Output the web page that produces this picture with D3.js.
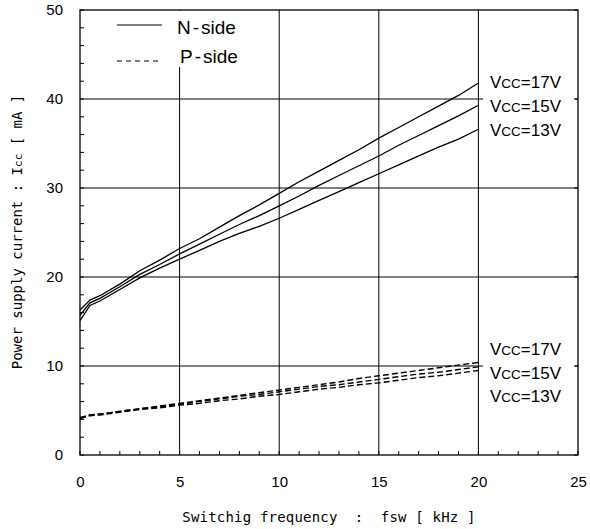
<!DOCTYPE html>
<html><head><meta charset="utf-8">
<script src="https://cdn.jsdelivr.net/npm/d3@7"></script>
<style>body{margin:0;background:#fff}svg{display:block}</style>
</head><body><div id="chart"></div>
<script>
const freq = [0, 0.5, 1, 2, 3, 4, 5, 6, 7, 8, 9, 10, 11, 12, 13, 14, 15, 16, 17, 18, 19, 20];
const nVcc17 = [16.3, 17.4, 17.9, 19.2, 20.7, 21.9, 23.2, 24.3, 25.6, 26.9, 28.1, 29.4, 30.7, 31.9, 33.1, 34.3, 35.6, 36.8, 38.0, 39.2, 40.4, 41.8];
const nVcc15 = [15.7, 17.1, 17.6, 18.9, 20.3, 21.4, 22.6, 23.7, 24.8, 25.9, 26.9, 28.0, 29.1, 30.3, 31.4, 32.5, 33.6, 34.8, 35.9, 37.0, 38.1, 39.3];
const nVcc13 = [15.1, 16.8, 17.3, 18.6, 19.9, 21.0, 22.0, 23.0, 24.0, 24.9, 25.7, 26.6, 27.6, 28.6, 29.6, 30.6, 31.6, 32.6, 33.6, 34.6, 35.5, 36.6];
const pVcc17 = [4.2, 4.5, 4.6, 4.9, 5.2, 5.5, 5.8, 6.1, 6.4, 6.7, 7.0, 7.3, 7.6, 7.9, 8.2, 8.6, 8.9, 9.2, 9.5, 9.8, 10.1, 10.4];
const pVcc15 = [4.2, 4.5, 4.6, 4.9, 5.2, 5.4, 5.7, 6.0, 6.3, 6.6, 6.8, 7.1, 7.4, 7.7, 7.9, 8.2, 8.5, 8.8, 9.1, 9.3, 9.6, 9.9];
const pVcc13 = [4.1, 4.4, 4.5, 4.8, 5.1, 5.3, 5.6, 5.8, 6.1, 6.3, 6.6, 6.8, 7.1, 7.4, 7.6, 7.9, 8.1, 8.4, 8.7, 8.9, 9.2, 9.5];
const vccLabels = ["17V", "15V", "13V"];
const xTicks = [0, 5, 10, 15, 20, 25];
const yTicks = [0, 10, 20, 30, 40, 50];
const legendNames = ["N", "P"];
const xTitle = "Switchig frequency  :  fsw [ kHz ]";

const W = 590, H = 529;
const SANS = "Liberation Sans, Arial, sans-serif";
const MONO = "DejaVu Sans Mono, monospace";
const svg = d3.select("#chart").append("svg").attr("width", W).attr("height", H);
const x = d3.scaleLinear().domain([0, 25]).range([80, 578]);
const y = d3.scaleLinear().domain([0, 50]).range([455, 10]);

// gridlines
const grid = svg.append("g").attr("stroke", "#000").attr("stroke-width", 1);
xTicks.slice(1, -1).forEach(v => grid.append("line").attr("x1", x(v)).attr("x2", x(v)).attr("y1", y(0)).attr("y2", y(50)));
yTicks.slice(1, -1).forEach(v => grid.append("line").attr("y1", y(v)).attr("y2", y(v)).attr("x1", x(0)).attr("x2", x(25)));

// minor ticks
const minor = svg.append("g").attr("stroke", "#000").attr("stroke-width", 1);
d3.range(0, 26, 1).forEach(v => minor.append("line").attr("x1", x(v)).attr("x2", x(v)).attr("y1", y(0)).attr("y2", y(0) - 4));
d3.range(0, 51, 2).forEach(v => minor.append("line").attr("y1", y(v)).attr("y2", y(v)).attr("x1", x(0)).attr("x2", x(0) + 4));

// series
const line = d3.line().x((d, i) => x(freq[i])).y(d => y(d));
[nVcc17, nVcc15, nVcc13].forEach(s => svg.append("path").attr("d", line(s)).attr("fill", "none").attr("stroke", "#000").attr("stroke-width", 1.3));
[pVcc17, pVcc15, pVcc13].forEach(s => svg.append("path").attr("d", line(s)).attr("fill", "none").attr("stroke", "#000").attr("stroke-width", 1.4).attr("stroke-dasharray", "6,3"));

// legend box
svg.append("rect").attr("x", 96).attr("y", 11).attr("width", 160).attr("height", 56).attr("fill", "#fff");
const leg = svg.append("g");
[[25, null, 34, 177], [61, "5,4", 63, 180]].forEach((d, i) => {
  leg.append("line").attr("x1", 117).attr("x2", 162).attr("y1", d[0]).attr("y2", d[0]).attr("stroke", "#000").attr("stroke-width", 1.2).attr("stroke-dasharray", d[1]);
  const t = leg.append("text").attr("x", d[3]).attr("y", d[2]).attr("font-family", SANS).attr("font-size", 19);
  t.append("tspan").text(legendNames[i]);
  t.append("tspan").attr("dx", 2).text("-");
  t.append("tspan").attr("dx", 2).text("side");
});

// right labels with white backgrounds
function vccLabel(yy, txt) {
  const t = svg.append("text").attr("x", 490).attr("y", yy).attr("font-family", SANS).attr("font-size", 17);
  t.append("tspan").text("V");
  t.append("tspan").attr("font-size", 13.5).text("CC");
  t.append("tspan").text("=" + txt);
}
svg.append("rect").attr("x", 483).attr("y", 70).attr("width", 92).attr("height", 70).attr("fill", "#fff");
svg.append("rect").attr("x", 483).attr("y", 338).attr("width", 92).attr("height", 68).attr("fill", "#fff");
vccLabels.forEach((l, i) => vccLabel(88 + i * 24, l));
vccLabels.forEach((l, i) => vccLabel(355 + i * 23.5, l));

// right major ticks
yTicks.forEach(v => svg.append("line").attr("x1", x(25)).attr("x2", x(25) - 4).attr("y1", y(v)).attr("y2", y(v)).attr("stroke", "#000"));

// frame
svg.append("rect").attr("x", x(0)).attr("y", y(50)).attr("width", x(25) - x(0)).attr("height", y(0) - y(50)).attr("fill", "none").attr("stroke", "#000").attr("stroke-width", 1.3);

// axes labels
const xa = svg.append("g").attr("transform", `translate(0,${y(0)})`)
  .call(d3.axisBottom(x).tickValues(xTicks).tickSize(0).tickPadding(21).tickFormat(d3.format("d")));
xa.select(".domain").remove();
xa.selectAll("text").attr("font-family", SANS).attr("font-size", 15).attr("fill", "#000");
const ya = svg.append("g").attr("transform", `translate(${x(0)},0)`)
  .call(d3.axisLeft(y).tickValues(yTicks).tickSize(0).tickPadding(17).tickFormat(d3.format("d")));
ya.select(".domain").remove();
ya.selectAll("text").attr("font-family", SANS).attr("font-size", 15).attr("fill", "#000");

svg.append("text").attr("x", 329).attr("y", 522).attr("text-anchor", "middle")
  .attr("font-family", MONO).attr("font-size", 14).attr("letter-spacing", 0.2)
  .style("white-space", "pre").text(xTitle);
const yt = svg.append("text").attr("transform", `translate(22,232) rotate(-90)`).attr("text-anchor", "middle")
  .attr("font-family", MONO).attr("font-size", 14).style("white-space", "pre");
yt.append("tspan").text("Power supply current : I");
yt.append("tspan").attr("font-size", 11).text("cc");
yt.append("tspan").text(" [ mA ]");
</script></body></html>
